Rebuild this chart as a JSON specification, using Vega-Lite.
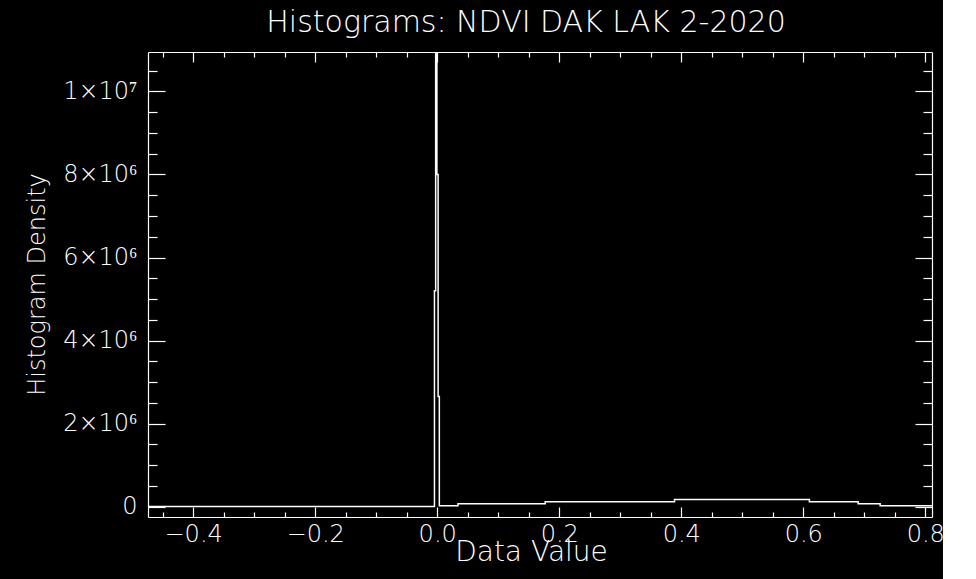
{
  "$schema": "https://vega.github.io/schema/vega-lite/v6.json",
  "width": 784,
  "height": 465,
  "autosize": {"type": "none"},
  "padding": {"left": 148, "top": 52, "right": 11, "bottom": 62},
  "background": "black",
  "title": {
    "text": "Histograms: NDVI DAK LAK 2-2020",
    "color": "white",
    "font": "DejaVu Sans",
    "fontSize": 30,
    "fontWeight": 200,
    "offset": 6,
    "dx": -14,
    "dy": 36,
    "anchor": "middle"
  },
  "config": {
    "view": {"stroke": null},
    "axis": {
      "domainColor": "white",
      "tickColor": "white",
      "labelColor": "white",
      "titleColor": "white",
      "domainWidth": 1.2,
      "tickWidth": 1.2,
      "grid": false,
      "labelFont": "DejaVu Sans",
      "labelFontWeight": 200,
      "labelFontSize": 24,
      "titleFont": "DejaVu Sans",
      "titleFontWeight": 200,
      "titleFontSize": 28,
      "labelFlush": false,
      "labelOverlap": false
    }
  },
  "datasets": {
    "hist": [
      {"start": -0.474, "count": 0},
      {"start": -0.0045, "count": 5200000},
      {"start": -0.0025, "count": 12000000},
      {"start": -0.0005, "count": 8000000},
      {"start": 0.0015, "count": 2650000},
      {"start": 0.0035, "count": 20000},
      {"start": 0.034, "count": 70000},
      {"start": 0.177, "count": 120000},
      {"start": 0.389, "count": 170000},
      {"start": 0.61, "count": 120000},
      {"start": 0.69, "count": 70000},
      {"start": 0.726, "count": 20000},
      {"start": 0.811, "count": 20000}
    ]
  },
  "data": {"name": "hist"},
  "resolve": {"axis": {"x": "independent", "y": "independent"}},
  "layer": [
    {
      "mark": {"type": "line", "color": "white", "strokeWidth": 1.5, "interpolate": "step-after", "clip": true},
      "encoding": {
        "x": {
          "field": "start", "type": "quantitative",
          "scale": {"domain": [-0.474, 0.811], "nice": false, "zero": false},
          "axis": {"orient": "bottom", "values": [-0.4, -0.2, 0, 0.2, 0.4, 0.6, 0.8], "format": ".1f", "tickSize": -10, "labelPadding": 15, "title": "Data Value", "titlePadding": -8, "titleX": 383}
        },
        "y": {
          "field": "count", "type": "quantitative",
          "scale": {"domain": [-250000, 10950000], "nice": false, "zero": false},
          "axis": {"orient": "left", "values": [0, 2000000, 4000000, 6000000, 8000000, 10000000], "labelExpr": "datum.value == 0 ? '0' : (datum.value == 10000000 ? '1×10⁷' : format(datum.value / 1000000, 'd') + '×10⁶')", "tickSize": -17, "labelPadding": 28, "title": "Histogram Density", "titleFontSize": 24, "titleX": -104, "titleY": 232, "titleBaseline": "alphabetic", "titleAlign": "center", "titleAngle": -90}
        }
      }
    },
    {
      "mark": {"type": "line", "strokeOpacity": 0, "interpolate": "step-after"},
      "encoding": {
        "x": {
          "field": "start", "type": "quantitative",
          "scale": {"domain": [-0.474, 0.811], "nice": false, "zero": false},
          "axis": {"orient": "bottom", "values": [-0.45, -0.35, -0.3, -0.25, -0.15, -0.1, -0.05, 0.05, 0.1, 0.15, 0.25, 0.3, 0.35, 0.45, 0.5, 0.55, 0.65, 0.7, 0.75], "tickSize": -5, "labels": false, "domain": false, "title": null}
        },
        "y": {
          "field": "count", "type": "quantitative",
          "scale": {"domain": [-250000, 10950000], "nice": false, "zero": false},
          "axis": {"orient": "left", "values": [500000, 1000000, 1500000, 2500000, 3000000, 3500000, 4500000, 5000000, 5500000, 6500000, 7000000, 7500000, 8500000, 9000000, 9500000, 10500000], "tickSize": -9, "labels": false, "domain": false, "title": null}
        }
      }
    },
    {
      "mark": {"type": "line", "strokeOpacity": 0, "interpolate": "step-after"},
      "encoding": {
        "x": {
          "field": "start", "type": "quantitative",
          "scale": {"domain": [-0.474, 0.811], "nice": false, "zero": false},
          "axis": {"orient": "top", "values": [-0.4, -0.2, 0, 0.2, 0.4, 0.6, 0.8], "tickSize": -10, "labels": false, "domain": true, "title": null}
        },
        "y": {
          "field": "count", "type": "quantitative",
          "scale": {"domain": [-250000, 10950000], "nice": false, "zero": false},
          "axis": {"orient": "right", "values": [0, 2000000, 4000000, 6000000, 8000000, 10000000], "tickSize": -17, "labels": false, "domain": true, "title": null}
        }
      }
    },
    {
      "mark": {"type": "line", "strokeOpacity": 0, "interpolate": "step-after"},
      "encoding": {
        "x": {
          "field": "start", "type": "quantitative",
          "scale": {"domain": [-0.474, 0.811], "nice": false, "zero": false},
          "axis": {"orient": "top", "values": [-0.45, -0.35, -0.3, -0.25, -0.15, -0.1, -0.05, 0.05, 0.1, 0.15, 0.25, 0.3, 0.35, 0.45, 0.5, 0.55, 0.65, 0.7, 0.75], "tickSize": -5, "labels": false, "domain": false, "title": null}
        },
        "y": {
          "field": "count", "type": "quantitative",
          "scale": {"domain": [-250000, 10950000], "nice": false, "zero": false},
          "axis": {"orient": "right", "values": [500000, 1000000, 1500000, 2500000, 3000000, 3500000, 4500000, 5000000, 5500000, 6500000, 7000000, 7500000, 8500000, 9000000, 9500000, 10500000], "tickSize": -9, "labels": false, "domain": false, "title": null}
        }
      }
    }
  ]
}
